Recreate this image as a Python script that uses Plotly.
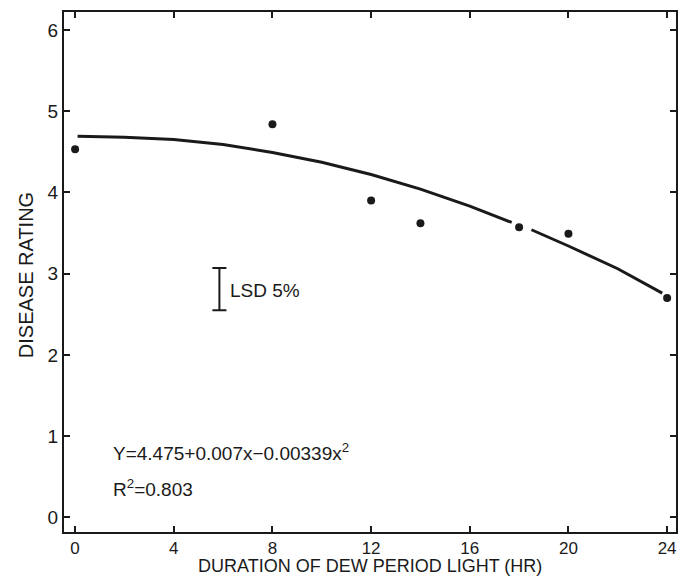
import plotly.graph_objects as go

# observed points
hours = [0, 8, 12, 14, 18, 20, 24]
rating = [4.53, 4.84, 3.90, 3.62, 3.57, 3.49, 2.70]

# fitted curve as drawn (gap where it passes the point at 18 h)
curve_x = [0.1, 2, 4, 6, 8, 10, 12, 14, 16, 17.7, None, 18.5, 20, 22, 23.8]
curve_y = [4.69, 4.68, 4.65, 4.59, 4.49, 4.37, 4.22, 4.04, 3.83, 3.63, None, 3.54, 3.34, 3.06, 2.76]

# LSD bar
lsd_x = [5.85]
lsd_center = [2.81]
lsd_half = [0.26]

x_ticks = [0, 4, 8, 12, 16, 20, 24]
y_ticks = [0, 1, 2, 3, 4, 5, 6]
x_title = "DURATION OF DEW PERIOD LIGHT (HR)"
y_title = "DISEASE RATING"

FONT = "Liberation Sans, Arial, sans-serif"
INK = "#1a1a1a"

fig = go.Figure()
fig.add_trace(go.Scatter(x=curve_x, y=curve_y, mode="lines",
                         line=dict(color=INK, width=3), connectgaps=False,
                         hoverinfo="skip", showlegend=False))
fig.add_trace(go.Scatter(x=hours, y=rating, mode="markers",
                         marker=dict(color=INK, size=8), showlegend=False))
fig.add_trace(go.Scatter(x=lsd_x, y=lsd_center, mode="markers",
                         marker=dict(size=1, color="rgba(0,0,0,0)"),
                         error_y=dict(type="data", array=lsd_half, symmetric=True,
                                      color=INK, thickness=2, width=7),
                         showlegend=False, hoverinfo="skip"))

fig.add_annotation(x=6.2, y=2.79, text="LSD 5%", showarrow=False, xanchor="left",
                   yanchor="middle", font=dict(family=FONT, size=19, color=INK))
fig.add_annotation(x=1.45, y=0.80, text="Y=4.475+0.007x\u22120.00339x<sup>2</sup>", showarrow=False,
                   xanchor="left", yanchor="middle", font=dict(family=FONT, size=19, color=INK))
fig.add_annotation(x=1.45, y=0.36, text="R<sup>2</sup>=0.803", showarrow=False,
                   xanchor="left", yanchor="middle", font=dict(family=FONT, size=19, color=INK))

# axis titles
fig.add_annotation(xref="paper", yref="paper", x=0.5, y=-0.088, text=x_title,
                   showarrow=False, xanchor="center", yanchor="bottom",
                   font=dict(family=FONT, size=18, color=INK))
fig.add_annotation(xref="paper", yref="paper", x=-0.062, y=0.494, text=y_title,
                   textangle=-90, showarrow=False, xanchor="center", yanchor="middle",
                   font=dict(family=FONT, size=20, color=INK))

fig.update_layout(
    width=687, height=579,
    margin=dict(l=64, r=11, t=12, b=47),
    paper_bgcolor="white", plot_bgcolor="white",
    font=dict(family=FONT, size=17, color=INK),
    xaxis=dict(range=[-0.45, 24.36], tickvals=x_ticks, ticks="inside", ticklen=6,
               tickwidth=2, tickcolor=INK, showline=True, linewidth=2, linecolor=INK,
               mirror="ticks", showgrid=False, zeroline=False, automargin=False,
               tickfont=dict(size=17)),
    yaxis=dict(range=[-0.18, 6.22], tickvals=y_ticks, ticks="inside", ticklen=6,
               tickwidth=2, tickcolor=INK, showline=True, linewidth=2, linecolor=INK,
               mirror="ticks", showgrid=False, zeroline=False, automargin=False,
               tickfont=dict(size=19)),
)

fig.write_html("out.html")
